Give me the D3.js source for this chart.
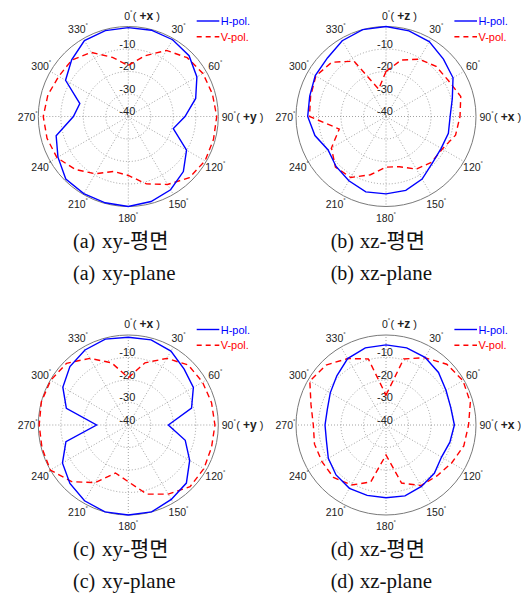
<!DOCTYPE html>
<html>
<head>
    <meta charset="utf-8">
    <script src="https://d3js.org/d3.v7.min.js"></script>
    <style>
        body { margin: 0; background: #fff; }
    </style>
</head>
<body>
<script>

    // angles in degrees, 0 = top, clockwise
    var angles = [0, 15, 30, 45, 60, 75, 90, 105, 120, 135, 150, 165,
                  180, 195, 210, 225, 240, 255, 270, 285, 300, 315, 330, 345];

    // gain in dB, one value per angle
    var aH = [-0.5, -0.3, -0.6, -1.8, -4.8, -9, -14.8, -19.3, -10.1, -5.4, -2.4, -0.9,
              0, -0.3, -0.4, -0.7, -3.9, -6.8, -15.6, -17.7, -7.8, -4.4, -1, -0.5];
    var aV = [-17.3, -12.1, -6.1, -3, -1.7, -1.3, -0.7, -0.8, -0.6, -1.6, -5.1, -9,
              -13.8, -14.7, -10.6, -6.7, -3.4, -2.6, -2.2, -3, -4.3, -4.5, -7.1, -12.8];
    var bH = [0, -0.6, -1.6, -3.9, -5.6, -9.5, -11.5, -11.3, -11.7, -10.8, -7.9, -6,
              -5.6, -5.3, -7, -8.6, -10.3, -7.3, -5.2, -4.9, -3.7, -3.2, -1.1, 0];
    var bV = [-20, -14, -10.6, -8.5, -8, -5.6, -7.1, -8, -11.1, -11.3, -13, -16.9,
              -17.5, -13.2, -8.7, -8.2, -12, -18.5, -6, -5.3, -4, -5.9, -11.6, -27.4];
    var cH = [-1, -0.8, -2.1, -4.9, -6.6, -10.9, -22.2, -13.8, -8.5, -3.5, -1.8, 0,
              0, 0, -1.1, -3.3, -6.2, -11.3, -25.9, -11.5, -6.4, -3.3, -1.5, -0.5];
    var cV = [-19, -11.4, -5.8, -2.3, -1.9, -1.7, -1.5, -1.7, -1.2, -1.2, -4.5, -8.2,
              -14.8, -17.9, -10.4, -4.4, 0, -0.3, -0.4, 0, -0.2, -1.2, -5.8, -11.4];
    var dH = [-4.4, -4.5, -5.3, -7, -9.2, -10.2, -9.6, -10.6, -11.5, -9.6, -8.5, -7.4,
              -7.7, -7.6, -7.5, -8.6, -10.4, -12.6, -12.9, -13, -11.4, -9.1, -5.9, -4.5];
    var dV = [-26.7, -9.6, -5.5, -1.8, -0.5, -1.2, -3.3, -4.2, -6.3, -8, -8.9, -13.3,
              -26.7, -13.8, -9.2, -7, -7.2, -7.1, -7.7, -5.5, -0.9, -2.3, -5.9, -9.6];

    var ringTicks = [-10, -20, -30, -40];
    var spokeAngles = [0, 30, 60, 90, 120, 150, 180, 210, 240, 270, 300, 330];
    var seriesNames = ['H-pol.', 'V-pol.'];

    var panels = [
        {cx: 128.3, cy: 116.5, H: aH, V: aV, top: '+x', right: '+y',
         tag: '(a)', plane: 'xy', capY: 248},
        {cx: 386, cy: 116.5, H: bH, V: bV, top: '+z', right: '+x',
         tag: '(b)', plane: 'xz', capY: 248},
        {cx: 128.3, cy: 425, H: cH, V: cV, top: '+x', right: '+y',
         tag: '(c)', plane: 'xy', capY: 556},
        {cx: 386, cy: 425, H: dH, V: dV, top: '+z', right: '+x',
         tag: '(d)', plane: 'xz', capY: 556}
    ];

    var width = 521, height = 600;
    var R = 90;
    var sans = '"Liberation Sans", Arial, sans-serif';
    var serif = '"Liberation Serif", "Times New Roman", "Noto Sans CJK KR", serif';

    var svg = d3.select('body').append('svg')
        .attr('width', width)
        .attr('height', height)
        .style('font-family', sans);

    var rScale = d3.scaleLinear()
        .domain([-40, 0])
        .range([0, R]);

    var rad = function(d) { return d * Math.PI / 180; };

    panels.forEach(function(p) {
        var g = svg.append('g')
            .attr('transform', 'translate(' + p.cx + ',' + p.cy + ')');

        // dotted rings
        g.selectAll('circle.ring').data([-10, -20, -30])
            .enter().append('circle')
            .attr('r', function(d) { return rScale(d); })
            .attr('fill', 'none')
            .attr('stroke', '#8a8a8a')
            .attr('stroke-width', 0.8)
            .attr('stroke-dasharray', '1,2');

        // spokes
        g.selectAll('line.spoke').data(spokeAngles)
            .enter().append('line')
            .attr('x1', 0).attr('y1', 0)
            .attr('x2', function(d) { return R * Math.sin(rad(d)); })
            .attr('y2', function(d) { return -R * Math.cos(rad(d)); })
            .attr('stroke', '#8a8a8a')
            .attr('stroke-width', 0.8)
            .attr('stroke-dasharray', '1,2');

        // outer circle
        g.append('circle')
            .attr('r', rScale(0))
            .attr('fill', 'none')
            .attr('stroke', '#7a7a7a')
            .attr('stroke-width', 1);

        // ring labels
        g.selectAll('text.rt').data(ringTicks)
            .enter().append('text')
            .attr('x', -1)
            .attr('y', function(d) { return -rScale(d) - 1.5; })
            .attr('text-anchor', 'middle')
            .attr('font-size', 11)
            .attr('fill', '#222')
            .text(function(d) { return d; });

        // angle labels
        var al = g.selectAll('text.al').data(spokeAngles)
            .enter().append('text')
            .attr('x', function(d) { return 100.5 * Math.sin(rad(d)); })
            .attr('y', function(d) { return -101 * Math.cos(rad(d)); })
            .attr('text-anchor', 'middle')
            .attr('dominant-baseline', 'central')
            .attr('font-size', 10.5)
            .attr('fill', '#222');
        al.append('tspan').text(function(d) { return d; });
        al.append('tspan')
            .attr('font-size', 6)
            .attr('dy', -4)
            .text('°');

        // axis names next to 0 and 90
        var t0 = g.append('text')
            .attr('x', 4.5).attr('y', -101)
            .attr('dominant-baseline', 'central')
            .attr('font-size', 11).attr('fill', '#222');
        t0.append('tspan').text('( ');
        t0.append('tspan').attr('font-weight', 'bold').attr('font-size', 12).text(p.top);
        t0.append('tspan').text(' )');

        var t90 = g.append('text')
            .attr('x', 108).attr('y', 0)
            .attr('dominant-baseline', 'central')
            .attr('font-size', 11).attr('fill', '#222');
        t90.append('tspan').text('( ');
        t90.append('tspan').attr('font-weight', 'bold').attr('font-size', 12).text(p.right);
        t90.append('tspan').text(' )');

        // traces
        var line = d3.lineRadial()
            .angle(function(d) { return rad(d[0]); })
            .radius(function(d) { return rScale(d[1]); })
            .curve(d3.curveLinearClosed);

        g.append('path')
            .datum(d3.zip(angles, p.V))
            .attr('d', line)
            .attr('fill', 'none')
            .attr('stroke', '#ff0000')
            .attr('stroke-width', 1.4)
            .attr('stroke-dasharray', '6,4');

        g.append('path')
            .datum(d3.zip(angles, p.H))
            .attr('d', line)
            .attr('fill', 'none')
            .attr('stroke', '#0000ff')
            .attr('stroke-width', 1.4);

        // legend
        var lg = g.append('g').attr('transform', 'translate(68.4,-95.5)');
        seriesNames.forEach(function(name, i) {
            var col = i === 0 ? '#0000ff' : '#ff0000';
            lg.append('line')
                .attr('x1', 0).attr('x2', 22.6)
                .attr('y1', i * 15.7).attr('y2', i * 15.7)
                .attr('stroke', col)
                .attr('stroke-width', 1.4)
                .attr('stroke-dasharray', i === 0 ? null : '5,4');
            lg.append('text')
                .attr('x', 24).attr('y', i * 15.7)
                .attr('dominant-baseline', 'central')
                .attr('font-size', 11)
                .attr('fill', col)
                .text(name);
        });

        // captions
        var capX = p.cx - 55.3;
        var caps = [p.plane + '-평면', p.plane + '-plane'];
        caps.forEach(function(c, i) {
            var y = p.capY + i * 32;
            svg.append('text')
                .attr('x', capX).attr('y', y)
                .style('font-family', serif)
                .attr('font-size', 20)
                .attr('fill', '#111')
                .text(p.tag);
            svg.append('text')
                .attr('x', capX + 29).attr('y', y)
                .style('font-family', serif)
                .attr('font-size', 21)
                .attr('fill', '#111')
                .text(c);
        });
    });

</script>
</body>
</html>
